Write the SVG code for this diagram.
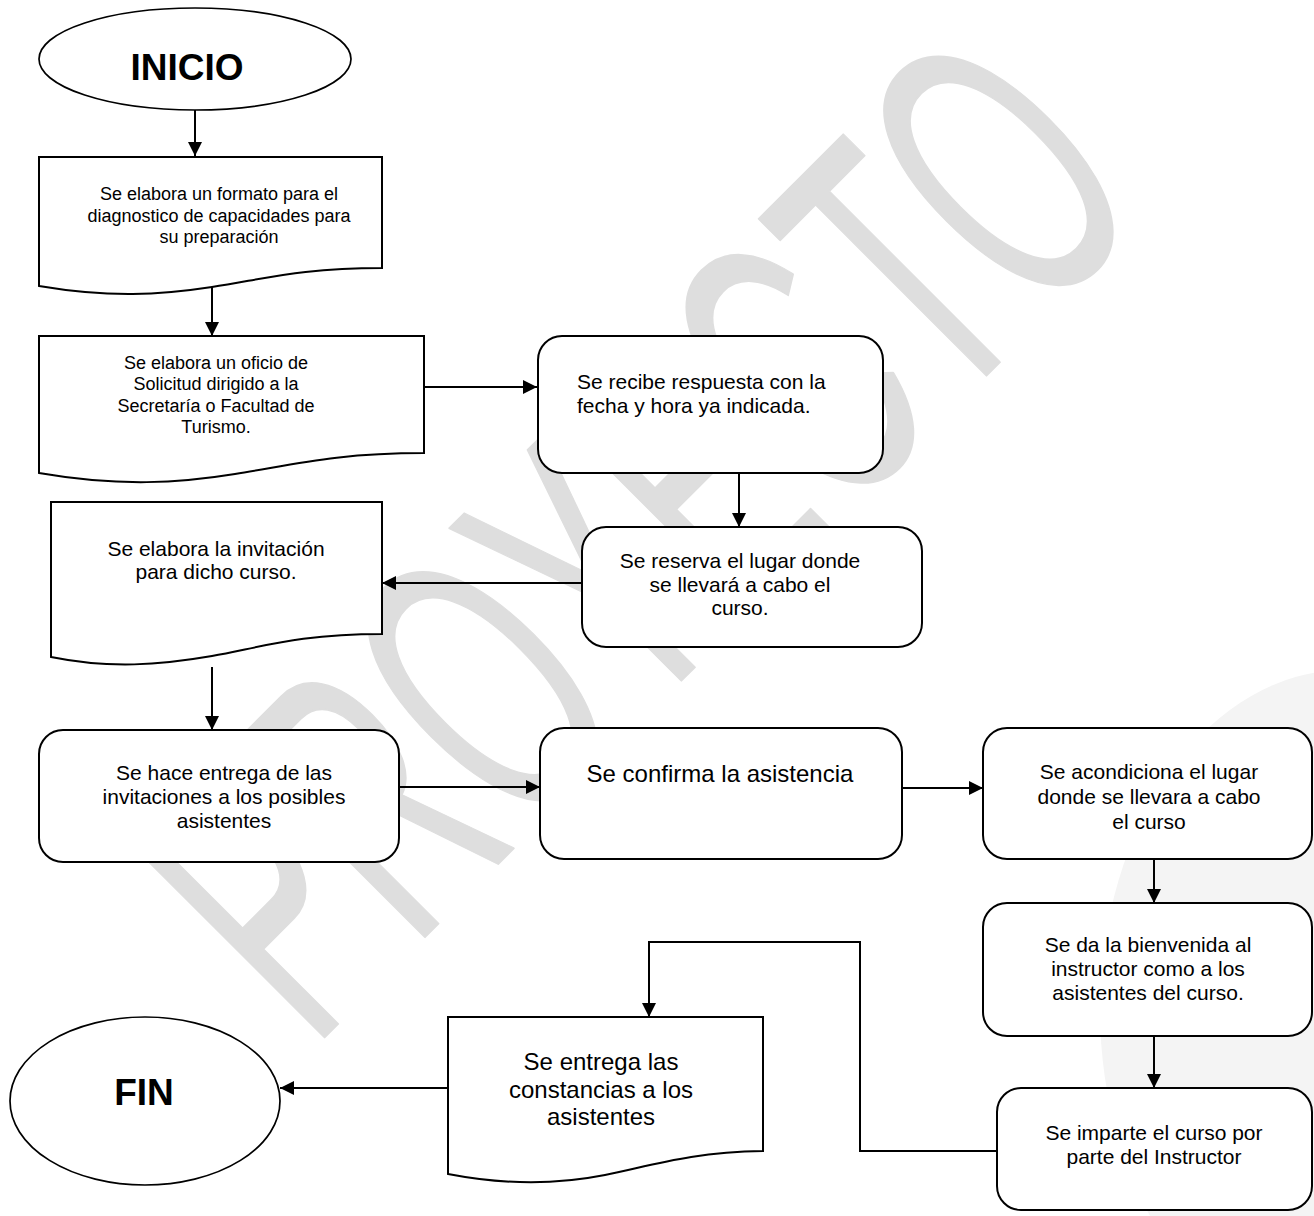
<svg xmlns="http://www.w3.org/2000/svg" width="1314" height="1216" viewBox="0 0 1314 1216">
<defs>
<style>
.shape{fill:#fff;stroke:#000;stroke-width:2}
.ell{fill:#fff;stroke:#000;stroke-width:1.7}
.t{font-family:"Liberation Sans",Arial,sans-serif;fill:#000;text-anchor:middle}
.s18{font-size:18px}
.s21{font-size:21px}
.s24{font-size:24px}
.big{font-size:37px;font-weight:bold}
.conn{fill:none;stroke:#000;stroke-width:2}
.wm{font-family:"Liberation Sans",Arial,sans-serif;font-size:395px;fill:#dedede;stroke:#dedede;stroke-width:2;stroke-linejoin:round}
</style>
<marker id="ah" viewBox="0 0 14 14" refX="14" refY="7" markerWidth="14" markerHeight="14" markerUnits="userSpaceOnUse" orient="auto">
<path d="M0,0 L14,7 L0,14 z" fill="#000"/>
</marker>
</defs>
<rect x="0" y="0" width="1314" height="1216" fill="#fff"/>
<g id="background">
<ellipse cx="1345" cy="1010" rx="245" ry="340" fill="#f4f4f4"/>
<text class="wm" x="312" y="1050" textLength="1190" lengthAdjust="spacingAndGlyphs" transform="rotate(-45 312 1050)">PROYECTO</text>
</g>
<g id="connectors">
<line class="conn" x1="195" y1="110" x2="195" y2="156" marker-end="url(#ah)"/>
<line class="conn" x1="212" y1="282" x2="212" y2="336" marker-end="url(#ah)"/>
<line class="conn" x1="424" y1="387" x2="537" y2="387" marker-end="url(#ah)"/>
<line class="conn" x1="739" y1="473" x2="739" y2="527" marker-end="url(#ah)"/>
<line class="conn" x1="582" y1="583" x2="382" y2="583" marker-end="url(#ah)"/>
<line class="conn" x1="212" y1="667" x2="212" y2="730" marker-end="url(#ah)"/>
<line class="conn" x1="399" y1="787" x2="540" y2="787" marker-end="url(#ah)"/>
<line class="conn" x1="902" y1="788" x2="983" y2="788" marker-end="url(#ah)"/>
<line class="conn" x1="1154" y1="859" x2="1154" y2="903" marker-end="url(#ah)"/>
<line class="conn" x1="1154" y1="1036" x2="1154" y2="1088" marker-end="url(#ah)"/>
<polyline class="conn" points="997,1151 860,1151 860,942 649,942 649,1017" marker-end="url(#ah)"/>
<line class="conn" x1="448" y1="1088" x2="280" y2="1088" marker-end="url(#ah)"/>
</g>
<g id="inicio">
<ellipse class="ell" cx="195" cy="59" rx="156" ry="51"/>
<text class="t big" x="187" y="80">INICIO</text>
</g>
<g id="formato">
<path class="shape" d="M39,157 H382 V268 C300,268 265,279 212,287 C160,295 110,298 39,286 Z"/>
<text class="t s18"><tspan x="219" y="200">Se elabora un formato para el</tspan><tspan x="219" y="221.5">diagnostico de capacidades para</tspan><tspan x="219" y="243">su preparación</tspan></text>
</g>
<g id="oficio">
<path class="shape" d="M39,336 H424 V453 C335,453 292,465 235,474 C180,483 120,487 39,473 Z"/>
<text class="t s18"><tspan x="216" y="369">Se elabora un oficio de</tspan><tspan x="216" y="390">Solicitud dirigido a la</tspan><tspan x="216" y="412">Secretaría o Facultad de</tspan><tspan x="216" y="433">Turismo.</tspan></text>
</g>
<g id="respuesta">
<rect class="shape" x="538" y="336" width="345" height="137" rx="24"/>
<text class="t s21" style="text-anchor:start"><tspan x="577" y="389">Se recibe respuesta con la</tspan><tspan x="577" y="413">fecha y hora ya indicada.</tspan></text>
</g>
<g id="reserva">
<rect class="shape" x="582" y="527" width="340" height="120" rx="24"/>
<text class="t s21"><tspan x="740" y="568">Se reserva el lugar donde</tspan><tspan x="740" y="592">se llevará a cabo el</tspan><tspan x="740" y="615">curso.</tspan></text>
</g>
<g id="invitacion">
<path class="shape" d="M51,502 H382 V634 C300,634 262,647 212,656 C160,665 110,669 51,657 Z"/>
<text class="t s21"><tspan x="216" y="556">Se elabora la invitación</tspan><tspan x="216" y="579">para dicho curso.</tspan></text>
</g>
<g id="entrega-invitaciones">
<rect class="shape" x="39" y="730" width="360" height="132" rx="24"/>
<text class="t s21"><tspan x="224" y="780">Se hace entrega de las</tspan><tspan x="224" y="804">invitaciones a los posibles</tspan><tspan x="224" y="828">asistentes</tspan></text>
</g>
<g id="confirma">
<rect class="shape" x="540" y="728" width="362" height="131" rx="24"/>
<text class="t s24" x="720" y="782">Se confirma la asistencia</text>
</g>
<g id="acondiciona">
<rect class="shape" x="983" y="728" width="329" height="131" rx="24"/>
<text class="t s21"><tspan x="1149" y="779">Se acondiciona el lugar</tspan><tspan x="1149" y="804">donde se llevara a cabo</tspan><tspan x="1149" y="829">el curso</tspan></text>
</g>
<g id="bienvenida">
<rect class="shape" x="983" y="903" width="329" height="133" rx="24"/>
<text class="t s21"><tspan x="1148" y="952">Se da la bienvenida al</tspan><tspan x="1148" y="976">instructor como a los</tspan><tspan x="1148" y="1000">asistentes del curso.</tspan></text>
</g>
<g id="imparte">
<rect class="shape" x="997" y="1088" width="315" height="122" rx="24"/>
<text class="t s21"><tspan x="1154" y="1140">Se imparte el curso por</tspan><tspan x="1154" y="1164">parte del Instructor</tspan></text>
</g>
<g id="constancias">
<path class="shape" d="M448,1017 H763 V1151 C690,1152 650,1166 605,1175 C560,1184 510,1186 448,1174 Z"/>
<text class="t s24"><tspan x="601" y="1070">Se entrega las</tspan><tspan x="601" y="1098">constancias a los</tspan><tspan x="601" y="1125">asistentes</tspan></text>
</g>
<g id="fin">
<ellipse class="ell" cx="145" cy="1101" rx="135" ry="84"/>
<text class="t big" x="144" y="1105">FIN</text>
</g>
</svg>
